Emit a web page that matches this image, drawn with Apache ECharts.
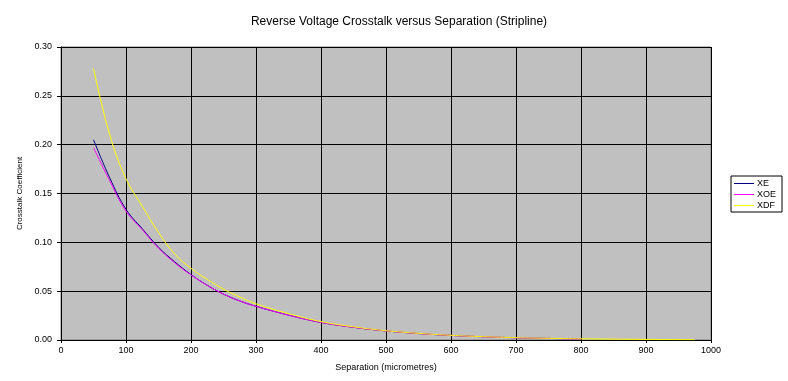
<!DOCTYPE html>
<html>
<head>
<meta charset="utf-8">
<script src="https://cdn.jsdelivr.net/npm/echarts@6/dist/echarts.min.js"></script>
<style>html,body{margin:0;padding:0;background:#fff;}#c{width:788px;height:381px;}</style>
</head>
<body>
<div id="c"></div>
<script>
const sepA = [50, 75, 100, 125, 150, 175, 200, 225, 250, 275, 300, 350, 400, 450, 500, 550, 600, 650, 700, 750, 800];
const xeVals = [0.205, 0.166, 0.1338, 0.114, 0.095, 0.080, 0.067, 0.056, 0.047, 0.040, 0.0345, 0.0255, 0.018, 0.013, 0.0093, 0.0066, 0.0047, 0.0033, 0.0023, 0.0016, 0.0011];
const xoeVals = [0.197, 0.163, 0.132, 0.113, 0.094, 0.079, 0.0666, 0.056, 0.047, 0.040, 0.0345, 0.0255, 0.018, 0.013, 0.0093, 0.0066, 0.0047, 0.0033, 0.0023, 0.0016, 0.0011];
const sepB = [50, 75, 100, 125, 150, 175, 200, 225, 250, 275, 300, 350, 400, 450, 500, 550, 600, 650, 700, 750, 800, 850, 900, 950, 975];
const xdfVals = [0.278, 0.21, 0.165, 0.137, 0.110, 0.088, 0.0734, 0.062, 0.052, 0.044, 0.037, 0.027, 0.0188, 0.0135, 0.0095, 0.0068, 0.0048, 0.0034, 0.0024, 0.0017, 0.0012, 0.0009, 0.0006, 0.0004, 0.0003];
const seriesNames = ['XE', 'XOE', 'XDF'];
const seriesColors = ['#000080', '#FF00FF', '#FFFF00'];

const zip = (xs, ys) => xs.map((x, i) => [x, ys[i]]);
const chart = echarts.init(document.getElementById('c'), null, {renderer: 'canvas'});
const font = 'Arial, "Liberation Sans", sans-serif';
chart.setOption({
  animation: false,
  backgroundColor: '#ffffff',
  title: {
    text: 'Reverse Voltage Crosstalk versus Separation (Stripline)',
    left: 394, top: 11, textAlign: 'center',
    textStyle: {fontFamily: font, fontSize: 12, fontWeight: 'normal', color: '#000'}
  },
  legend: {
    orient: 'vertical',
    left: 731, top: 176,
    padding: [3, 6, 2, 3],
    itemGap: 2,
    itemWidth: 20, itemHeight: 8,
    borderColor: '#000', borderWidth: 1,
    backgroundColor: '#fff',
    icon: 'path://M0,4L20,4L20,5L0,5Z',
    textStyle: {fontFamily: font, fontSize: 9, lineHeight: 9, color: '#000', padding: [0, 0, 0, -2]},
    data: seriesNames.map((n, i) => ({name: n, itemStyle: {color: seriesColors[i]}}))
  },
  grid: {
    left: 61, right: 77, top: 47, bottom: 41,
    show: true, backgroundColor: '#C0C0C0', borderColor: '#808080', borderWidth: 1
  },
  xAxis: {
    type: 'value', min: 0, max: 1000, interval: 100,
    name: 'Separation (micrometres)', nameLocation: 'middle', nameGap: 23,
    nameTextStyle: {fontFamily: font, fontSize: 9, color: '#000'},
    axisLine: {show: true, lineStyle: {color: '#000', width: 1}},
    axisTick: {show: true, length: 3, lineStyle: {color: '#000'}},
    axisLabel: {fontFamily: font, fontSize: 9, color: '#000', margin: 6, formatter: v => String(v)},
    splitLine: {show: true, lineStyle: {color: '#000', width: 1}}
  },
  yAxis: {
    type: 'value', min: 0, max: 0.3, interval: 0.05,
    name: 'Crosstalk Coefficient', nameLocation: 'middle', nameGap: 37, nameRotate: 90,
    nameTextStyle: {fontFamily: font, fontSize: 8, color: '#000'},
    axisLine: {show: true, lineStyle: {color: '#000', width: 1}},
    axisTick: {show: true, length: 4, lineStyle: {color: '#000'}},
    axisLabel: {fontFamily: font, fontSize: 9, color: '#000', margin: 9, formatter: v => v.toFixed(2)},
    splitLine: {show: true, lineStyle: {color: '#000', width: 1}}
  },
  series: [
    {name: seriesNames[0], type: 'line', data: zip(sepA, xeVals), smooth: 0.4, showSymbol: false, lineStyle: {color: seriesColors[0], width: 1}, itemStyle: {color: seriesColors[0]}},
    {name: seriesNames[1], type: 'line', data: zip(sepA, xoeVals), smooth: 0.4, showSymbol: false, lineStyle: {color: seriesColors[1], width: 1}, itemStyle: {color: seriesColors[1]}},
    {name: seriesNames[2], type: 'line', data: zip(sepB, xdfVals), smooth: 0.4, showSymbol: false, lineStyle: {color: seriesColors[2], width: 1}, itemStyle: {color: seriesColors[2]}}
  ]
});
</script>
</body>
</html>
